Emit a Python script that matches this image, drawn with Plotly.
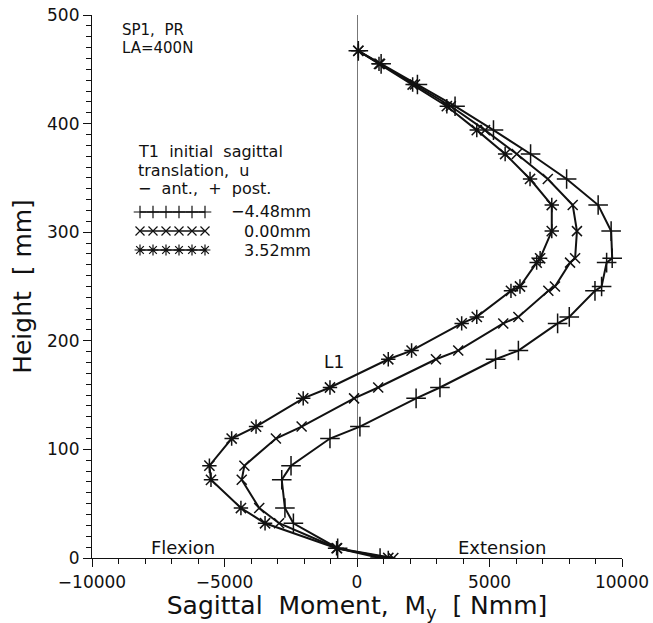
import numpy as np
import plotly.graph_objects as go

# Node heights along the spine (mm), shared by the three load cases
height_mm = [467, 455, 436, 416, 394, 372, 349, 325, 301, 276, 272, 250, 246,
             222, 216, 191, 183, 157, 147, 121, 110, 85, 72, 46, 32, 9, 0]

# Sagittal moment M_y (Nmm) for each initial T1 translation u
moment_u_neg448 = [50, 910, 2280, 3700, 5150, 6550, 7910, 9100, 9590, 9630, 9420,
                   9230, 8980, 8010, 7570, 6090, 5230, 3130, 2230, 110, -1020,
                   -2490, -2840, -2720, -2400, -730, 870]
moment_u_000 = [50, 870, 2190, 3540, 4830, 6030, 7200, 8140, 8300, 8230, 8040,
                7470, 7220, 6090, 5520, 3820, 2980, 800, -110, -2090, -3060,
                -4250, -4350, -3690, -2940, -750, 1370]
moment_u_352 = [50, 830, 2100, 3390, 4520, 5590, 6530, 7350, 7350, 6910, 6780,
                6150, 5810, 4520, 3950, 2060, 1180, -1020, -2030, -3810, -4730,
                -5570, -5510, -4380, -3470, -770, 1180]

series_labels = ["\u22124.48mm", "0.00mm", "3.52mm"]
series_symbols = ["cross-thin", "x-thin", "asterisk"]
series_sizes = [14, 10, 12]

x_ticks = [-10000, -5000, 0, 5000, 10000]
x_tick_text = ["\u221210000", "\u22125000", "0", "5000", "10000"]
y_ticks = [0, 100, 200, 300, 400, 500]

FONT = "DejaVu Sans"
INK = "#111111"
SP = "\u00a0"

# plot area in pixels
W_FIG, H_FIG = 653, 623
M_L, M_R, M_T, M_B = 92, 31, 15, 65
PW = W_FIG - M_L - M_R
PH = H_FIG - M_T - M_B


def px_x(px):
    return (px - M_L) / PW


def px_y(py):
    return (H_FIG - M_B - py) / PH


fig = go.Figure()

for moments, sym, size in zip([moment_u_neg448, moment_u_000, moment_u_352],
                              series_symbols, series_sizes):
    fig.add_trace(go.Scatter(
        x=moments, y=height_mm, mode="lines+markers",
        line=dict(color=INK, width=2),
        marker=dict(symbol=sym, size=size, color=INK,
                    line=dict(color=INK, width=1.5)),
        showlegend=False, hoverinfo="skip",
    ))

# legend keys: a short line carrying a row of markers
key_rows = [212, 231, 250]
key_x = np.linspace(px_x(140), px_x(205), 6)
for row, sym, label in zip(key_rows, series_symbols, series_labels):
    fig.add_trace(go.Scatter(
        x=key_x, y=[px_y(row)] * len(key_x), mode="lines+markers",
        xaxis="x2", yaxis="y2",
        line=dict(color=INK, width=1.5),
        marker=dict(symbol=sym, size=9, color=INK,
                    line=dict(color=INK, width=1.2)),
        showlegend=False, hoverinfo="skip",
    ))
    fig.add_annotation(text=label, xref="paper", yref="paper",
                       x=px_x(313), y=px_y(row), xanchor="right",
                       yanchor="middle", showarrow=False,
                       font=dict(family=FONT, size=16, color=INK))

texts = [
    ("SP1," + SP + SP + "PR", 120, 30, "left", 15),
    ("LA=400N", 120, 48, "left", 15),
    ("T1" + SP + SP + "initial" + SP + SP + "sagittal", 136, 151, "left", 16),
    ("translation," + SP + SP + "u", 136, 170, "left", 16),
    ("\u2212" + SP + SP + "ant.," + SP + SP + "+" + SP + SP + "post.", 136, 189, "left", 16),
    ("L1", 334, 362, "center", 17),
    ("Flexion", 183, 547, "center", 18),
    ("Extension", 502, 547, "center", 18),
]
for t, x, y, anc, fs in texts:
    fig.add_annotation(text=t, xref="paper", yref="paper", x=px_x(x), y=px_y(y),
                       xanchor=anc, yanchor="middle", showarrow=False,
                       font=dict(family=FONT, size=fs, color=INK))

axis_common = dict(
    showline=True, linecolor=INK, linewidth=1.2,
    ticks="outside", ticklen=8, tickwidth=1.2, tickcolor=INK,
    showgrid=False, mirror=False, automargin=False,
    tickfont=dict(family=FONT, size=17, color=INK),
)

fig.update_layout(
    width=W_FIG, height=H_FIG,
    margin=dict(l=M_L, r=M_R, t=M_T, b=M_B),
    paper_bgcolor="white", plot_bgcolor="white",
    xaxis=dict(range=[-10000, 10000], tickvals=x_ticks, ticktext=x_tick_text,
               zeroline=True, zerolinecolor="#777777", zerolinewidth=1,
               minor=dict(dtick=1000, ticklen=5, ticks="outside",
                          tickcolor=INK, tickwidth=1),
               title=dict(text="Sagittal" + SP + SP + "Moment," + SP + SP
                          + "M<sub>y</sub>" + SP + SP + "[" + SP + "Nmm]",
                          font=dict(family=FONT, size=25, color=INK),
                          standoff=2),
               **axis_common),
    yaxis=dict(range=[0, 500], tickvals=y_ticks, zeroline=False,
               minor=dict(dtick=10, ticklen=5, ticks="outside",
                          tickcolor=INK, tickwidth=1),
               title=dict(text="Height" + SP + SP + "[" + SP + "mm]",
                          font=dict(family=FONT, size=25, color=INK),
                          standoff=8),
               **axis_common),
    xaxis2=dict(range=[0, 1], overlaying="x", visible=False),
    yaxis2=dict(range=[0, 1], overlaying="y", visible=False),
)

fig.write_html("out.html")
